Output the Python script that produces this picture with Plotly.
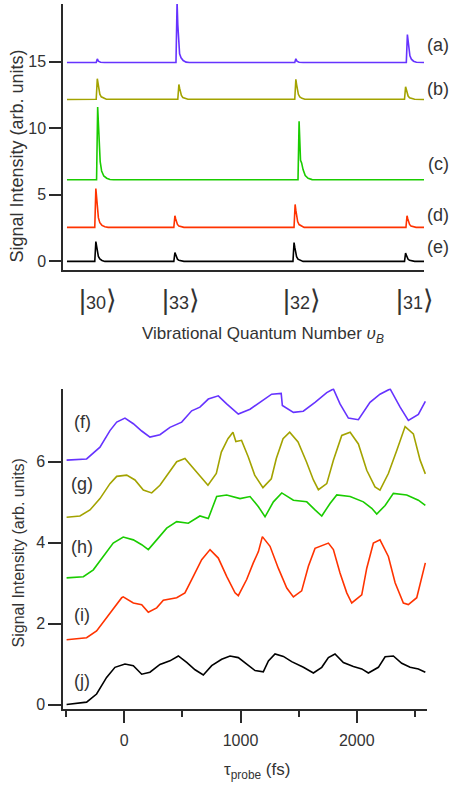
import plotly.graph_objects as go

# ---------------- top panel: spectra (x in arbitrary channel units 0..1000) ----------------
spec_labels = ["(a)", "(b)", "(c)", "(d)", "(e)"]
spec_colors = ["#6633FF", "#A3A300", "#1ACC00", "#FF3300", "#000000"]

xa = [11, 92, 95, 98, 104, 115, 313, 316, 318, 320, 323, 327, 333, 341, 350,
      642, 645, 648, 654, 665, 951, 954, 956, 958, 961, 965, 971, 979, 990, 1000]
ya = [14.95, 14.95, 15.22, 15.05, 14.97, 14.95, 14.95, 19.5, 17.8, 16.4, 15.6, 15.3, 15.1, 14.98, 14.95,
      14.95, 15.23, 15.05, 14.97, 14.95, 14.95, 17.05, 16.5, 15.9, 15.45, 15.2, 15.05, 14.97, 14.95, 14.95]

xb = [11, 92, 95, 97, 99, 102, 106, 112, 120, 318, 321, 323, 325, 328, 332, 338, 346,
      642, 645, 647, 649, 652, 656, 662, 670, 946, 949, 951, 953, 956, 960, 966, 974, 1000]
yb = [12.17, 12.19, 13.73, 13.35, 12.88, 12.57, 12.37, 12.27, 12.19, 12.19, 13.3, 13.02, 12.69, 12.47, 12.32, 12.25, 12.19,
      12.19, 13.68, 13.31, 12.86, 12.56, 12.37, 12.26, 12.19, 12.19, 13.13, 12.9, 12.61, 12.43, 12.3, 12.24, 12.19, 12.17]

xc = [11, 93, 96, 98, 100, 103, 107, 113, 121, 130, 140,
      651, 654, 656, 658, 661, 665, 671, 679, 690, 1000]
yc = [6.14, 6.14, 11.61, 10.2, 8.6, 7.5, 6.8, 6.42, 6.25, 6.16, 6.14,
      6.14, 10.54, 9.0, 7.6, 7.4, 6.9, 6.45, 6.25, 6.15, 6.14]

xd = [11, 88, 91, 93, 95, 98, 102, 108, 116, 125, 307, 310, 312, 314, 317, 321, 327, 335,
      640, 643, 645, 647, 650, 654, 660, 668, 950, 953, 955, 957, 960, 964, 970, 978, 1000]
yd = [2.56, 2.56, 5.47, 4.74, 3.87, 3.29, 2.91, 2.71, 2.6, 2.56, 2.56, 3.43, 3.21, 2.95, 2.78, 2.66, 2.6, 2.56,
      2.56, 4.28, 3.85, 3.33, 2.99, 2.77, 2.65, 2.56, 2.56, 3.43, 3.21, 2.95, 2.78, 2.66, 2.6, 2.56, 2.56]

xe = [11, 88, 91, 93, 95, 98, 102, 108, 116, 307, 310, 312, 314, 317, 321, 327, 335,
      637, 640, 642, 644, 647, 651, 657, 665, 946, 949, 951, 953, 956, 960, 966, 974, 1000]
ye = [0.0, 0.0, 1.49, 1.12, 0.67, 0.37, 0.18, 0.07, 0.0, 0.0, 0.67, 0.5, 0.3, 0.17, 0.08, 0.03, 0.0,
      0.0, 1.42, 1.07, 0.64, 0.36, 0.17, 0.07, 0.0, 0.0, 0.63, 0.47, 0.28, 0.16, 0.08, 0.03, 0.0, 0.0]

spec_x = [xa, xb, xc, xd, xe]
spec_y = [ya, yb, yc, yd, ye]

ket_numbers = ["30", "33", "32", "31"]
ket_pos = [96, 327, 662, 975]
top_yticks = [0, 5, 10, 15]

# ---------------- bottom panel: transients vs probe delay (fs) ----------------
tr_labels = ["(f)", "(g)", "(h)", "(i)", "(j)"]

tf = [-496, -324, -209, -123, -65, 6, 78, 150, 221, 307, 393, 494, 580, 651, 723, 809, 881, 981, 1082,
      1168, 1268, 1350, 1360, 1455, 1540, 1641, 1742, 1799, 1856, 1928, 2014, 2114, 2200, 2287, 2373, 2444, 2530, 2590]
yf = [6.04, 6.07, 6.36, 6.77, 6.98, 7.08, 6.94, 6.76, 6.61, 6.67, 6.85, 6.98, 7.26, 7.35, 7.55, 7.63, 7.43, 7.18, 7.30,
      7.47, 7.67, 7.69, 7.39, 7.22, 7.25, 7.47, 7.71, 7.80, 7.43, 7.08, 7.04, 7.47, 7.67, 7.80, 7.35, 7.02, 7.17, 7.49]

tg = [-496, -381, -295, -209, -123, -65, 21, 92, 164, 236, 307, 379, 451, 522, 620, 720, 792, 835, 892,
      935, 960, 1009, 1067, 1122, 1193, 1265, 1308, 1366, 1423, 1495, 1567, 1627, 1670, 1742, 1799, 1871, 1943,
      2014, 2086, 2157, 2200, 2272, 2344, 2416, 2487, 2545, 2590]
yg = [4.63, 4.66, 4.81, 5.09, 5.46, 5.64, 5.67, 5.55, 5.30, 5.23, 5.42, 5.71, 6.00, 6.08, 5.75, 5.42, 5.71, 6.24, 6.57,
      6.73, 6.50, 6.53, 6.12, 5.67, 5.36, 5.58, 6.08, 6.57, 6.73, 6.49, 6.00, 5.55, 5.31, 5.46, 6.04, 6.65, 6.73,
      6.44, 5.79, 5.38, 5.30, 5.71, 6.28, 6.87, 6.69, 6.04, 5.70]

th = [-496, -352, -266, -181, -95, -9, 78, 150, 207, 279, 365, 451, 551, 651, 723, 795, 881, 996, 1082,
      1154, 1211, 1283, 1355, 1455, 1570, 1641, 1699, 1770, 1828, 1943, 2057, 2129, 2172, 2244, 2315, 2430, 2530, 2590]
yh = [3.13, 3.16, 3.33, 3.66, 3.99, 4.14, 4.07, 3.95, 3.83, 4.07, 4.36, 4.52, 4.48, 4.66, 4.60, 5.14, 5.18, 5.09, 5.14,
      4.89, 4.64, 5.01, 5.23, 5.05, 5.01, 4.81, 4.66, 4.97, 5.18, 5.14, 5.01, 4.85, 4.71, 4.92, 5.22, 5.18, 5.05, 4.92]

ti = [-496, -324, -238, -152, -80, -22, -9, 78, 150, 207, 279, 336, 451, 522, 594, 666, 738, 809, 881, 953, 981,
      1053, 1110, 1154, 1188, 1254, 1325, 1398, 1455, 1526, 1584, 1641, 1756, 1799, 1856, 1914, 1957, 2043,
      2086, 2143, 2200, 2272, 2330, 2401, 2444, 2516, 2590]
yi = [1.60, 1.65, 1.82, 2.15, 2.43, 2.64, 2.66, 2.51, 2.47, 2.28, 2.39, 2.58, 2.64, 2.76, 3.17, 3.58, 3.83, 3.62, 3.17, 2.76, 2.69,
      3.09, 3.50, 3.78, 4.15, 3.91, 3.37, 2.88, 2.66, 2.81, 3.42, 3.86, 3.99, 3.83, 3.25, 2.76, 2.51, 2.71,
      3.37, 3.99, 4.07, 3.66, 3.01, 2.51, 2.47, 2.64, 3.50]

tj = [-496, -324, -238, -152, -80, 6, 78, 150, 221, 307, 393, 465, 537, 609, 680, 752, 838, 910, 981, 1053,
      1125, 1196, 1240, 1297, 1369, 1440, 1541, 1627, 1699, 1756, 1813, 1885, 1971, 2043, 2100, 2186, 2244,
      2315, 2387, 2459, 2530, 2590]
yj = [0.00, 0.06, 0.26, 0.67, 0.92, 1.00, 0.96, 0.75, 0.80, 0.99, 1.08, 1.20, 1.04, 0.86, 0.73, 0.96, 1.12, 1.20, 1.16, 1.00,
      0.84, 0.81, 1.08, 1.25, 1.19, 1.06, 0.92, 0.78, 0.92, 1.16, 1.25, 1.04, 0.94, 0.88, 0.78, 0.92, 1.18,
      1.20, 1.02, 0.92, 0.88, 0.80]

tr_x = [tf, tg, th, ti, tj]
tr_y = [yf, yg, yh, yi, yj]
bot_xticks = [0, 1000, 2000]
bot_yticks = [0, 2, 4, 6]

# ---------------- figure ----------------
FONT = "Liberation Sans, Arial, Helvetica, sans-serif"
TXT = "#333333"
AX = "#2a2a2a"

fig = go.Figure()
for xs, ys, c in zip(spec_x, spec_y, spec_colors):
    fig.add_trace(go.Scatter(x=xs, y=ys, mode="lines", line=dict(color=c, width=1.6),
                             xaxis="x", yaxis="y", showlegend=False, hoverinfo="skip"))
for xs, ys, c in zip(tr_x, tr_y, spec_colors):
    fig.add_trace(go.Scatter(x=xs, y=ys, mode="lines", line=dict(color=c, width=1.6),
                             xaxis="x2", yaxis="y2", showlegend=False, hoverinfo="skip"))

W, H = 453, 794
def px(x):
    return x / W
def py(y):
    return 1 - y / H

fig.update_layout(
    width=W, height=H, margin=dict(l=0, r=0, t=0, b=0),
    paper_bgcolor="white", plot_bgcolor="white",
    font=dict(family=FONT, color=TXT),
    xaxis=dict(domain=[px(63), px(424)], range=[0, 1000], showgrid=False, zeroline=False,
               showline=True, linecolor=AX, linewidth=1.5, ticks="", showticklabels=False,
               anchor="y"),
    yaxis=dict(domain=[py(271.5), py(4)], range=[-0.63, 19.35], showgrid=False, zeroline=False,
               showline=True, linecolor=AX, linewidth=1.5, ticks="outside", ticklen=12, tickwidth=1.5,
               tickcolor=AX, tickvals=top_yticks, tickfont=dict(size=16, color=TXT), anchor="x"),
    xaxis2=dict(domain=[px(63), px(426.5)], range=[-527, 2600], showgrid=False, zeroline=False,
                showline=True, linecolor=AX, linewidth=1.5, ticks="outside", ticklen=13, tickwidth=1.5,
                tickcolor=AX, tickvals=bot_xticks, tickfont=dict(size=16, color=TXT), anchor="y2",
                ticklabelstandoff=4,
                minor=dict(ticks="outside", ticklen=7, tickwidth=1.5, tickcolor=AX, dtick=500, tick0=0)),
    yaxis2=dict(domain=[py(713), py(391)], range=[-0.098, 7.81], showgrid=False, zeroline=False,
                showline=True, linecolor=AX, linewidth=1.5, ticks="outside", ticklen=13, tickwidth=1.5,
                tickcolor=AX, tickvals=bot_yticks, tickfont=dict(size=16, color=TXT), anchor="x2"),
)

ann = []
for lab, yy in zip(spec_labels, [45, 90, 165, 216.7, 248.3]):
    ann.append(dict(text=lab, x=px(438), y=py(yy), xref="paper", yref="paper", showarrow=False,
                    font=dict(size=18, color=TXT), xanchor="center", yanchor="middle"))
for lab, yy in zip(tr_labels, [425, 486.7, 550.7, 619, 685]):
    ann.append(dict(text=lab, x=px(82), y=py(yy), xref="paper", yref="paper", showarrow=False,
                    font=dict(size=18, color=TXT), xanchor="center", yanchor="middle"))
for num, xx in zip(ket_numbers, ket_pos):
    txt = ("<span style='font-size:27px'>|</span>" + num +
           "<span style='font-size:27px'>\u27e9</span>")
    ann.append(dict(text=txt, x=xx, y=py(302), xref="x", yref="paper", showarrow=False,
                    font=dict(size=18, color=TXT), xanchor="center", yanchor="middle"))
ann.append(dict(text="Signal Intensity (arb. units)", x=px(17.5), y=py(157), xref="paper", yref="paper",
                textangle=-90, showarrow=False, font=dict(size=18, color=TXT),
                xanchor="center", yanchor="middle"))
ann.append(dict(text="Signal Intensity (arb. units)", x=px(18), y=py(557), xref="paper", yref="paper",
                textangle=-90, showarrow=False, font=dict(size=16, color=TXT),
                xanchor="center", yanchor="middle"))
ann.append(dict(text="Vibrational Quantum Number <i>\u03c5</i><sub><i>B</i></sub>", x=px(263), y=py(337),
                xref="paper", yref="paper", showarrow=False, font=dict(size=17, color=TXT),
                xanchor="center", yanchor="middle"))
ann.append(dict(text="\u03c4<sub>probe</sub> (fs)", x=px(257), y=py(776),
                xref="paper", yref="paper", showarrow=False, font=dict(size=17, color=TXT),
                xanchor="center", yanchor="middle"))
fig.update_layout(annotations=ann)

fig.write_html("out.html", config={"displayModeBar": False},
               post_script="document.body.style.margin='0px';document.body.style.overflow='hidden';")
